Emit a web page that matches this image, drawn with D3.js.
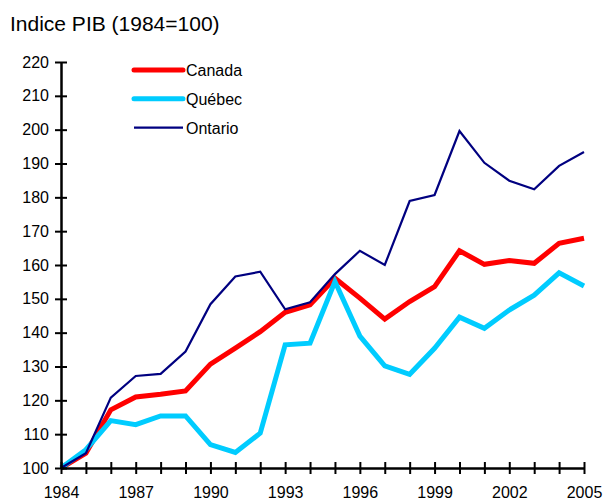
<!DOCTYPE html>
<html><head><meta charset="utf-8">
<script src="https://cdn.jsdelivr.net/npm/d3@7"></script>
<style>
html,body{margin:0;padding:0;background:#fff;}
text{font-family:"Liberation Sans",Arial,sans-serif;fill:#000;}
</style></head>
<body><svg id="c" width="603" height="503"></svg>
<script>
const years = d3.range(1984, 2006);
const canada = [100,104.4,117.2,121,121.8,122.8,130.7,135.4,140.3,146,148.2,156.1,150.2,144,149.2,153.6,164.2,160.2,161.3,160.5,166.4,167.9];
const quebec = [100,105.4,114,112.8,115.4,115.4,106.9,104.6,110.3,136.4,136.9,155.1,139,130.2,127.7,135.4,144.6,141.3,146.7,151.1,157.7,153.8];
const ontario = [100,104.4,120.8,127.2,127.8,134.4,148.4,156.6,158,146.9,149,157.3,164.2,160,178.9,180.7,199.6,190.2,184.9,182.4,189.3,193.4];
const yTicks = [100,110,120,130,140,150,160,170,180,190,200,210,220];
const xLabelYears = [1984,1987,1990,1993,1996,1999,2002,2005];
const seriesNames = ["Canada","Québec","Ontario"];
const seriesData = [canada, quebec, ontario];
const seriesColors = ["#ff0000","#00ccff","#000080"];
const seriesWidths = [5,5,2.2];
const title = "Indice PIB (1984=100)";

const svg = d3.select("#c");
const x = d3.scaleLinear().domain([1984,2005]).range([61,584]);
const y = d3.scaleLinear().domain([100,220]).range([468,62]);

svg.append("text").attr("x",10).attr("y",31).attr("font-size",21).text(title);

const line = d3.line().x((d,i)=>x(years[i])).y(d=>y(d));
seriesData.forEach((s,k)=>{
  svg.append("path").datum(s).attr("d",line).attr("fill","none")
    .attr("stroke",seriesColors[k]).attr("stroke-width",seriesWidths[k])
    .attr("stroke-linejoin","miter");
});

const yAxis = svg.append("g").attr("transform",`translate(${x(1984)},0)`)
  .call(d3.axisLeft(y).tickValues(yTicks).tickSize(6).tickPadding(6).tickSizeOuter(0));
const xAxis = svg.append("g").attr("transform",`translate(0,${y(100)})`)
  .call(d3.axisBottom(x).tickValues(years).tickSize(6).tickPadding(13).tickSizeOuter(0)
    .tickFormat(d=> xLabelYears.includes(d) ? String(d) : ""));
[yAxis,xAxis].forEach(g=>{
  g.select(".domain").attr("stroke","#000").attr("stroke-width",2.5);
  g.selectAll(".tick line").attr("stroke","#000").attr("stroke-width",2);
  g.selectAll(".tick text").attr("font-size",16).attr("font-family","Liberation Sans, Arial, sans-serif").attr("fill","#000");
});
yAxis.selectAll(".tick line").attr("x1",6).attr("x2",-6);
xAxis.selectAll(".tick line").attr("y1",-6).attr("y2",6);

const lg = svg.append("g");
seriesNames.forEach((n,k)=>{
  const yy = 70 + k*28.8;
  lg.append("line").attr("x1",134).attr("x2",183).attr("y1",yy).attr("y2",yy)
    .attr("stroke",seriesColors[k]).attr("stroke-width",seriesWidths[k]).attr("stroke-linecap", k<2?"round":"butt");
  lg.append("text").attr("x",186).attr("y",yy+6).attr("font-size",16).text(n);
});
</script></body></html>
